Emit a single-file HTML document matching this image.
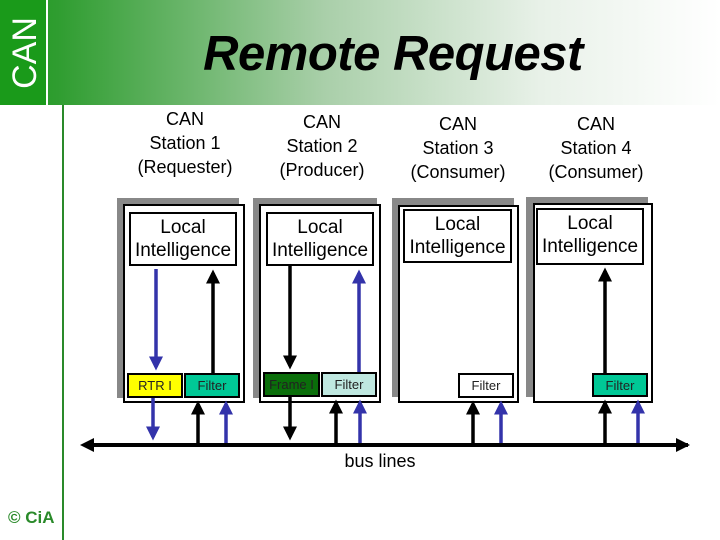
<!DOCTYPE html>
<html><head><style>
body{margin:0;width:720px;height:540px;position:relative;background:#fff;font-family:"Liberation Sans",sans-serif;overflow:hidden}
.a{position:absolute;box-sizing:border-box}
.t{position:absolute;text-align:center;font-size:18px;line-height:24px;color:#000}
.li{position:absolute;box-sizing:border-box;border:2px solid #000;background:#fff;text-align:center;font-size:19px;line-height:23px;padding-top:2px}
.sm{position:absolute;box-sizing:border-box;border:2px solid #000;text-align:center;font-size:13px;line-height:21px;color:#222}
</style></head><body>
<div class="a" style="left:0;top:0;width:720px;height:105px;background:linear-gradient(90deg,#1e9a1e 0%,#2f9d30 8%,#a9cfa9 45%,#e8f1e8 75%,#fff 100%)"></div>
<div class="a" style="left:0;top:0;width:46px;height:105px;background:#1a9a1a"></div>
<div class="a" style="left:46px;top:0;width:2px;height:105px;background:#fff"></div>
<div class="a" style="left:62px;top:105px;width:2px;height:435px;background:#2a8a2a"></div>
<div class="a" style="left:-20px;top:35px;width:90px;height:36px;transform:rotate(-90deg);color:#fff;font-size:34px;line-height:36px;text-align:center">CAN</div>
<div class="a" style="left:143px;top:24px;width:500px;text-align:center;font-size:49px;font-weight:bold;font-style:italic;line-height:60px;letter-spacing:-0.5px">Remote Request</div>
<div class="a" style="left:8px;top:508px;color:#2a8a2a;font-size:17px;font-weight:bold">© CiA</div>

<div class="t" style="left:115px;top:107px;width:140px">CAN<br>Station 1<br>(Requester)</div>
<div class="t" style="left:252px;top:110px;width:140px">CAN<br>Station 2<br>(Producer)</div>
<div class="t" style="left:388px;top:112px;width:140px">CAN<br>Station 3<br>(Consumer)</div>
<div class="t" style="left:526px;top:112px;width:140px">CAN<br>Station 4<br>(Consumer)</div>

<div class="a" style="left:117px;top:198px;width:122px;height:200px;background:#888"></div>
<div class="a" style="left:123px;top:204px;width:122px;height:199px;background:#fff;border:2px solid #000"></div>
<div class="li" style="left:129px;top:212px;width:108px;height:54px">Local<br>Intelligence</div>
<div class="sm" style="left:127px;top:373px;width:56px;height:25px;background:#ffff00">RTR I</div>
<div class="sm" style="left:184px;top:373px;width:56px;height:25px;background:#00c896">Filter</div>

<div class="a" style="left:253px;top:198px;width:124px;height:200px;background:#888"></div>
<div class="a" style="left:259px;top:204px;width:122px;height:199px;background:#fff;border:2px solid #000"></div>
<div class="li" style="left:266px;top:212px;width:108px;height:54px">Local<br>Intelligence</div>
<div class="sm" style="left:263px;top:372px;width:57px;height:25px;background:#0a6e0a">Frame I</div>
<div class="sm" style="left:321px;top:372px;width:56px;height:25px;background:#bfe8e0">Filter</div>

<div class="a" style="left:392px;top:198px;width:122px;height:199px;background:#888"></div>
<div class="a" style="left:398px;top:205px;width:121px;height:198px;background:#fff;border:2px solid #000"></div>
<div class="li" style="left:403px;top:209px;width:109px;height:54px">Local<br>Intelligence</div>
<div class="sm" style="left:458px;top:373px;width:56px;height:25px;background:#fff">Filter</div>

<div class="a" style="left:526px;top:197px;width:122px;height:200px;background:#888"></div>
<div class="a" style="left:533px;top:203px;width:120px;height:200px;background:#fff;border:2px solid #000"></div>
<div class="li" style="left:536px;top:208px;width:108px;height:57px">Local<br>Intelligence</div>
<div class="sm" style="left:592px;top:373px;width:56px;height:24px;background:#00c896">Filter</div>

<div class="t" style="left:330px;top:449px;width:100px">bus lines</div>

<svg class="a" style="left:0;top:0" width="720" height="540">
<defs>
<marker id="k" markerWidth="4" markerHeight="4" refX="3" refY="2" orient="auto"><path d="M0,0L4,2L0,4z" fill="#000"/></marker>
<marker id="b" markerWidth="4" markerHeight="4" refX="3" refY="2" orient="auto"><path d="M0,0L4,2L0,4z" fill="#3333aa"/></marker>
</defs>
<g stroke-width="3.5" fill="none">
<line x1="86" y1="445" x2="688" y2="445" stroke="#000" stroke-width="4"/>
<path d="M80,445L94,438L94,452z" fill="#000" stroke="none"/>
<path d="M690,445L676,438L676,452z" fill="#000" stroke="none"/>
<line x1="156" y1="269" x2="156" y2="367" stroke="#3333aa" marker-end="url(#b)"/>
<line x1="213" y1="373" x2="213" y2="273" stroke="#000" marker-end="url(#k)"/>
<line x1="153" y1="398" x2="153" y2="437" stroke="#3333aa" marker-end="url(#b)"/>
<line x1="198" y1="443" x2="198" y2="404" stroke="#000" marker-end="url(#k)"/>
<line x1="226" y1="443" x2="226" y2="404" stroke="#3333aa" marker-end="url(#b)"/>
<line x1="290" y1="266" x2="290" y2="366" stroke="#000" marker-end="url(#k)"/>
<line x1="359" y1="372" x2="359" y2="273" stroke="#3333aa" marker-end="url(#b)"/>
<line x1="290" y1="397" x2="290" y2="437" stroke="#000" marker-end="url(#k)"/>
<line x1="336" y1="443" x2="336" y2="403" stroke="#000" marker-end="url(#k)"/>
<line x1="360" y1="443" x2="360" y2="403" stroke="#3333aa" marker-end="url(#b)"/>
<line x1="473" y1="443" x2="473" y2="404" stroke="#000" marker-end="url(#k)"/>
<line x1="501" y1="443" x2="501" y2="404" stroke="#3333aa" marker-end="url(#b)"/>
<line x1="605" y1="373" x2="605" y2="271" stroke="#000" marker-end="url(#k)"/>
<line x1="605" y1="443" x2="605" y2="403" stroke="#000" marker-end="url(#k)"/>
<line x1="638" y1="443" x2="638" y2="403" stroke="#3333aa" marker-end="url(#b)"/>
</g>
</svg>
</body></html>
